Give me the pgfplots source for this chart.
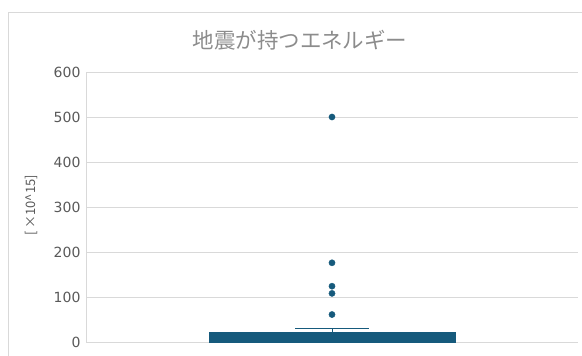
\documentclass[border=0pt]{standalone}
\usepackage{fontspec}
\setmainfont{DejaVu Sans}
\newfontfamily\cjk{Noto Sans CJK JP}
\usepackage{pgfplots}
\pgfplotsset{compat=1.18}
\definecolor{boxc}{RGB}{22,90,124}
\definecolor{gridc}{RGB}{217,217,217}
\definecolor{txtc}{RGB}{89,89,89}
\definecolor{titc}{RGB}{140,140,140}
\begin{document}
\begin{tikzpicture}
\useasboundingbox (0pt,0pt) rectangle (582pt,356pt);
\draw[gridc,line width=0.8pt] (8.5pt,0pt) -- (8.5pt,343.5pt) -- (582pt,343.5pt);
\node[font=\cjk\fontsize{21.5}{24}\selectfont,text=titc] at (300pt,316pt) {地震が持つエネルギー};
\node[font=\cjk\fontsize{13}{15}\selectfont,text=txtc,rotate=90] at (31pt,151pt) {[\,×10\textasciicircum15]};
\begin{axis}[
  at={(86pt,14pt)}, anchor=south west,
  scale only axis, width=492pt, height=270pt,
  xmin=0, xmax=2, ymin=0, ymax=600,
  ytick={0,100,...,600}, xtick=\empty,
  ymajorgrids, grid style={gridc,line width=0.8pt},
  axis x line=none,
  axis y line*=left,
  y axis line style={gridc,line width=0.8pt,-},
  tick style={draw=none},
  ticklabel style={font=\fontsize{14}{16}\selectfont,text=txtc},
  /pgf/number format/assume math mode=true,
  yticklabel style={xshift=-2pt},
  clip=false,
]
% box (Q1 to Q3)
\addplot[draw=boxc, fill=boxc, line width=0.8pt] coordinates {(0.5,0) (1.5,0) (1.5,22) (0.5,22)} -- cycle;
% whisker and cap
\addplot[draw=boxc, line width=1pt] coordinates {(1,22) (1,30)};
\addplot[draw=boxc, line width=1pt] coordinates {(0.85,30) (1.15,30)};
% outliers
\addplot[only marks, mark=*, mark size=3.1pt, mark options={fill=boxc,draw=boxc}]
  coordinates {(1,61) (1,108) (1,124) (1,176) (1,500)};
\end{axis}
\end{tikzpicture}
\end{document}
